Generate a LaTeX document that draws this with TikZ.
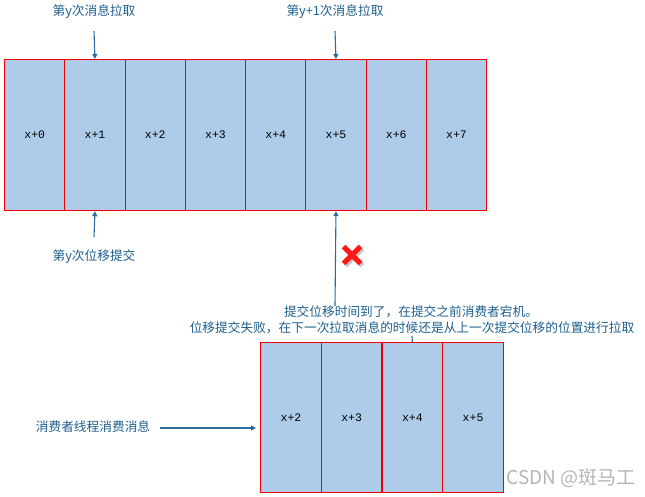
\documentclass[tikz,border=0pt]{standalone}
\usepackage{fontspec}
\newfontfamily\cjk{Noto Sans CJK SC}
\newfontfamily\cellfont{Liberation Mono}
\usetikzlibrary{arrows.meta}
\definecolor{cellfill}{HTML}{AECBEA}
\definecolor{cellline}{HTML}{F00000}
\definecolor{labtext}{HTML}{1F5F8E}
\definecolor{arrcol}{HTML}{2B6C9C}
\definecolor{wmark}{HTML}{B4B4B4}
\tikzset{
  cell/.style={draw=cellline, fill=cellfill, line width=1.2pt, inner sep=0pt,
    minimum width=60.25pt, minimum height=151pt, anchor=north west,
    font=\cellfont\fontsize{11.5}{12}\selectfont},
  bcell/.style={cell, minimum width=60.7pt, minimum height=150pt},
  lab/.style={text=labtext, inner sep=1pt, font=\cjk\fontsize{12.7}{14}\selectfont},
  conn/.style={draw=arrcol, line width=1.1pt, -{Triangle[width=5pt,length=5pt]}},
  tick/.style={draw=arrcol, line width=1.1pt}
}
\begin{document}
\begin{tikzpicture}[x=1pt,y=-1pt]
\useasboundingbox (0,0) rectangle (645,497);
% top row
\foreach \i in {0,...,7}{
  \node[cell] (t\i) at ({4+\i*60.25},59) {x+\i};
}
% bottom row
\foreach \i/\k in {0/2,1/3,2/4,3/5}{
  \node[bcell] (b\k) at ({260+\i*60.7},342) {x+\k};
}
% labels
\node[lab] (ly) at (94,12) {第y次消息拉取};
\node[lab] (ly1) at (335,12) {第y+1次消息拉取};
\node[lab] (lc) at (94,257) {第y次位移提交};
\node[lab] (n1) at (411,312) {提交位移时间到了，在提交之前消费者宕机。};
\node[lab] (n2) at (412,328) {位移提交失败，在下一次拉取消息的时候还是从上一次提交位移的位置进行拉取};
\node[lab] (lt) at (93,427) {消费者线程消费消息};
% free ends
\coordinate (a1) at (94,31);
\coordinate (a2) at (335,31);
\coordinate (a3) at (94,237);
\coordinate (a4) at (335,306);
\coordinate (a5) at (160,428);
\coordinate (a6) at (412,336);
\coordinate (a7) at (256,428);
% connectors
\draw[conn] (a1) -- (t1.north);
\draw[conn] (a2) -- (t5.north);
\draw[conn] (a3) -- (t1.south);
\draw[conn] (a4) -- (t5.south);
\draw[conn] (a5) -- (a7);
\draw[tick] (a6) -- (b4.north);
% red cross
\begin{scope}[shift={(352,255)}]
  \draw[gray!45, line width=5pt] (-8.5,-8.5) ++(2,2) -- ++(17,17);
  \draw[gray!45, line width=5pt] (8.5,-8.5) ++(2,2) -- ++(-17,17);
  \draw[red!90!white, line width=5pt] (-8.5,-8.5) -- (8.5,8.5);
  \draw[red!90!white, line width=5pt] (8.5,-8.5) -- (-8.5,8.5);
\end{scope}
% watermark
\node[text=wmark, font=\cjk\fontsize{19}{21}\selectfont, inner sep=0pt] (wm) at (571,478) {CSDN @斑马工};
\end{tikzpicture}
\end{document}
